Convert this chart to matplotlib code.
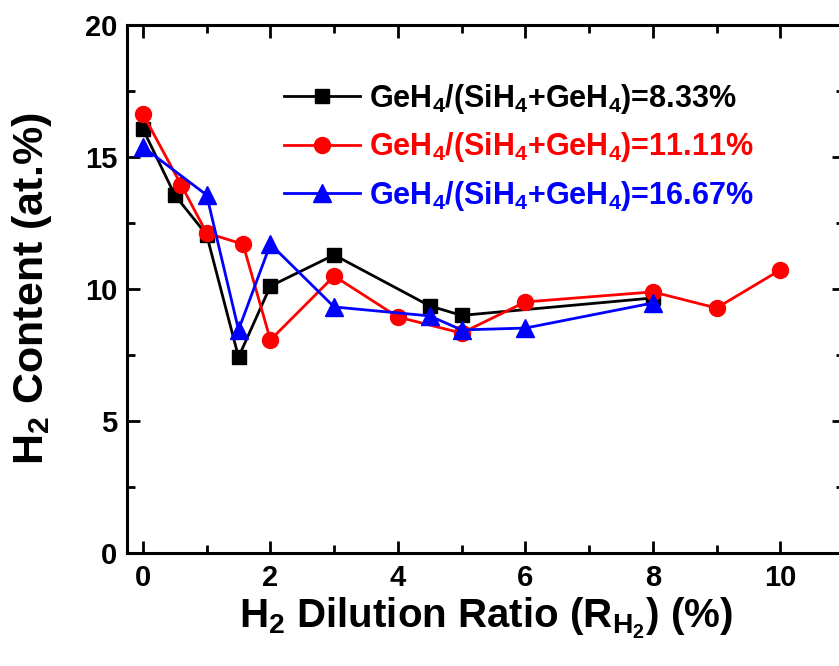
import matplotlib.pyplot as plt
from matplotlib.ticker import MultipleLocator

plt.rcParams['font.family'] = 'Liberation Sans'
plt.rcParams['font.weight'] = 'bold'
plt.rcParams['mathtext.fontset'] = 'custom'
plt.rcParams['mathtext.rm'] = 'Liberation Sans:bold'
plt.rcParams['mathtext.it'] = 'Liberation Sans:bold'
plt.rcParams['mathtext.bf'] = 'Liberation Sans:bold'

# datos
x_833 = [0, 0.5, 1, 1.5, 2, 3, 4.5, 5, 8]
y_833 = [16.06, 13.56, 12.05, 7.42, 10.11, 11.29, 9.36, 9.0, 9.66]

x_1111 = [0, 0.6, 1, 1.57, 2, 3, 4, 5, 6, 8, 9, 10]
y_1111 = [16.63, 13.94, 12.12, 11.7, 8.07, 10.49, 8.94, 8.33, 9.51, 9.89, 9.28, 10.72]

x_1667 = [0, 1, 1.5, 2, 3, 4.5, 5, 6, 8]
y_1667 = [15.38, 13.56, 8.45, 11.7, 9.32, 8.98, 8.45, 8.52, 9.47]

etiquetas = [r'GeH$_4$/(SiH$_4$+GeH$_4$)=8.33%',
             r'GeH$_4$/(SiH$_4$+GeH$_4$)=11.11%',
             r'GeH$_4$/(SiH$_4$+GeH$_4$)=16.67%']

fig = plt.figure(figsize=(8.39, 6.66), dpi=100)
ax = fig.add_axes([127/839, 113/666, (844-127)/839, (553-25)/666])

ax.plot(x_833, y_833, color='black', marker='s', markersize=10.5, lw=2, label=etiquetas[0])
ax.plot(x_1111, y_1111, color='red', marker='o', markersize=11.5, lw=2, label=etiquetas[1])
ax.plot(x_1667, y_1667, color='blue', marker='^', markersize=12.5, lw=2, label=etiquetas[2])

ax.set_xlim(-0.25, 11)
ax.set_ylim(0, 20)
ax.xaxis.set_major_locator(MultipleLocator(2))
ax.xaxis.set_minor_locator(MultipleLocator(1))
ax.yaxis.set_major_locator(MultipleLocator(5))
ax.yaxis.set_minor_locator(MultipleLocator(2.5))
ax.tick_params(which='both', direction='in', top=True, right=True, width=2, labelsize=21)
ax.tick_params(which='major', length=9)
ax.tick_params(which='minor', length=6)
ax.tick_params(axis='x', which='major', pad=8)
ax.tick_params(axis='y', which='major', pad=7)
for s in ax.spines.values():
    s.set_linewidth(2.2)

ax.set_xlabel(r'H$_2$ Dilution Ratio (R$_{\mathrm{H_2}}$) (%)', fontsize=29, fontweight='bold', labelpad=3)
ax.set_ylabel(r'H$_2$ Content (at.%)', fontsize=31, fontweight='bold', labelpad=22)

leg = ax.legend(loc='upper left', bbox_to_anchor=(0.18, 0.945), frameon=False, fontsize=22,
                handlelength=2.5, labelspacing=0.48, handletextpad=0.3)
for txt, c in zip(leg.get_texts(), ['black', 'red', 'blue']):
    txt.set_color(c)

fig.savefig('out.png', dpi=100)
